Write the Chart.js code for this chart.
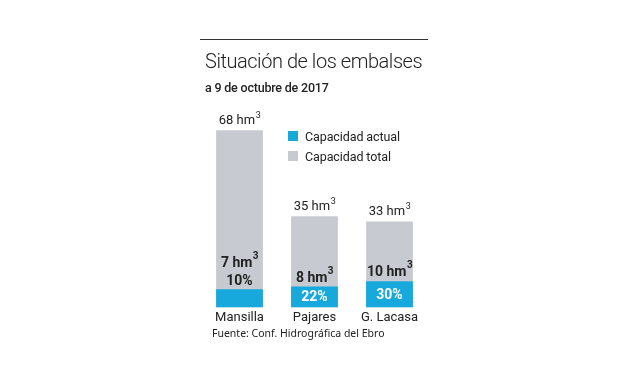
<!DOCTYPE html>
<html>
<head>
<meta charset="utf-8">
<script src="https://cdn.jsdelivr.net/npm/chart.js@4"></script>
<style>
  html, body { margin:0; padding:0; background:#fff; }
  #wrap { position:relative; width:624px; height:385px; overflow:hidden; font-family: Roboto, "Noto Sans", sans-serif; color:#222; }
  #c { position:absolute; left:0; top:0; }
  .rule { position:absolute; left:200px; top:39px; width:228px; height:1px; background:#333; }
  .title { position:absolute; left:205px; top:49px; font-size:20px; font-weight:300; letter-spacing:-0.45px; white-space:nowrap; }
  .sub { position:absolute; left:205px; top:80px; font-size:12.5px; font-weight:500; letter-spacing:-0.2px; white-space:nowrap; }
  .src { position:absolute; left:212px; top:326px; font-family:"Noto Sans", sans-serif; font-size:10.5px; white-space:nowrap; color:#222; }
  #legend { position:absolute; left:288px; top:126px; font-size:12.5px; letter-spacing:-0.1px; }
  .li { display:flex; align-items:center; height:20px; white-space:nowrap; }
  .sw { width:10px; height:10px; margin-right:7px; }
</style>
</head>
<body>
<div id="wrap">
  <canvas id="c" width="624" height="385"></canvas>
  <div class="rule"></div>
  <div class="title">Situación de los embalses</div>
  <div class="sub">a 9 de octubre de 2017</div>
  <div id="legend"></div>
  <div class="src">Fuente: Conf. Hidrográfica del Ebro</div>
</div>
<script>
const categories = ["Mansilla", "Pajares", "G. Lacasa"];
const actual = [7, 8, 10];        // hm3
const total = [68, 35, 33];       // hm3
const percent = [10, 22, 30];     // %
const seriesNames = ["Capacidad actual", "Capacidad total"];
const colors = ["#18a9dc", "#c7cbd1"];

// HTML legend built from series
const lg = document.getElementById('legend');
seriesNames.forEach((n, i) => {
  const d = document.createElement('div'); d.className = 'li';
  d.innerHTML = '<span class="sw" style="background:' + colors[i] + '"></span><span>' + n + '</span>';
  lg.appendChild(d);
});

function drawSup(ctx, main, sup, cx, baseline, font, supFont, color, rise) {
  ctx.save();
  ctx.fillStyle = color;
  ctx.font = font;
  const w1 = ctx.measureText(main).width;
  ctx.font = supFont;
  const w2 = ctx.measureText(sup).width;
  const x0 = cx - (w1 + w2) / 2;
  ctx.textAlign = 'left';
  ctx.textBaseline = 'alphabetic';
  ctx.font = font;
  ctx.fillText(main, x0, baseline);
  ctx.font = supFont;
  ctx.fillText(sup, x0 + w1 + 0.5, baseline - rise);
  ctx.restore();
}

const labelPlugin = {
  id: 'labels',
  afterDatasetsDraw(chart) {
    const ctx = chart.ctx;
    const mA = chart.getDatasetMeta(0);
    const mT = chart.getDatasetMeta(1);
    mT.data.forEach((bar, i) => {
      const cx = bar.x;
      drawSup(ctx, total[i] + ' hm', '3', cx, bar.y - 6, '400 13px Roboto', '400 9px Roboto', '#222', 6);
      const blue = mA.data[i];
      const blueTop = blue.y;
      const blueH = blue.base - blue.y;
      ctx.save();
      ctx.textAlign = 'center';
      ctx.textBaseline = 'middle';
      ctx.font = '700 14px Roboto';
      let hmBase;
      if (blueH < 19) {
        ctx.fillStyle = '#222';
        ctx.fillText(percent[i] + '%', cx, blueTop - 8);
        hmBase = blueTop - 22;
      } else {
        ctx.fillStyle = '#fff';
        ctx.fillText(percent[i] + '%', cx, blueTop + blueH / 2 + 1);
        hmBase = blueTop - 5;
      }
      ctx.restore();
      drawSup(ctx, actual[i] + ' hm', '3', cx, hmBase, '700 14px Roboto', '700 10px Roboto', '#222', 8);
    });
  }
};

new Chart(document.getElementById('c'), {
  type: 'bar',
  data: {
    labels: categories,
    datasets: [
      { label: seriesNames[0], data: actual, backgroundColor: colors[0], barPercentage: 0.8, categoryPercentage: 0.78 },
      { label: seriesNames[1], data: total, backgroundColor: colors[1], barPercentage: 0.8, categoryPercentage: 0.78 }
    ]
  },
  options: {
    responsive: false,
    animation: false,
    devicePixelRatio: 1,
    layout: { padding: { left: 202, right: 197, top: 99, bottom: 56 } },
    plugins: { legend: { display: false }, tooltip: { enabled: false }, title: { display: false } },
    scales: {
      x: {
        stacked: true,
        grid: { display: false, drawTicks: false },
        border: { display: false },
        ticks: { color: '#222', font: { family: 'Roboto', size: 13 }, padding: 3 }
      },
      y: {
        stacked: false,
        display: false,
        min: 0, max: 80
      }
    }
  },
  plugins: [labelPlugin]
});
</script>
</body>
</html>
